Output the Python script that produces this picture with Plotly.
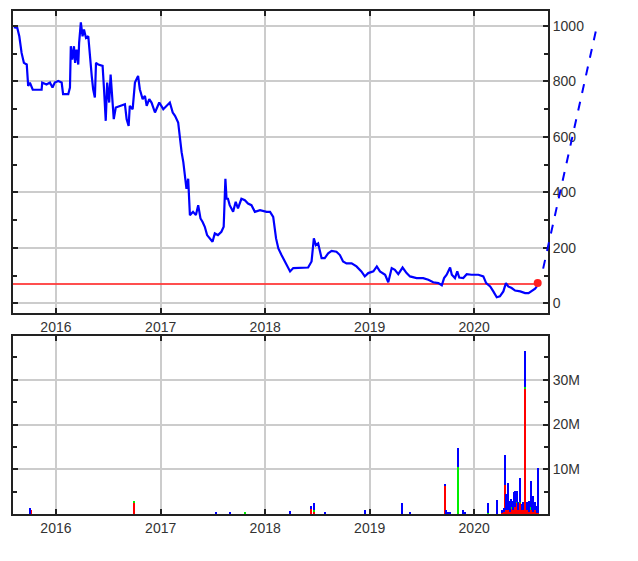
import plotly.graph_objects as go
from datetime import datetime

# ---------------- data ----------------
price_dates = [
    "2015-08-07", "2015-08-19", "2015-08-26", "2015-09-03", "2015-09-11", "2015-09-21", "2015-09-26",
    "2015-10-02", "2015-10-12", "2015-11-12", "2015-11-14", "2015-11-29", "2015-12-11", "2015-12-20",
    "2015-12-28", "2016-01-09", "2016-01-21", "2016-01-26", "2016-02-13", "2016-02-19", "2016-02-22",
    "2016-02-27", "2016-03-04", "2016-03-08", "2016-03-13", "2016-03-19", "2016-03-22", "2016-03-28",
    "2016-04-03", "2016-04-08", "2016-04-15", "2016-04-23", "2016-05-05", "2016-05-10", "2016-05-16",
    "2016-05-20", "2016-05-28", "2016-06-12", "2016-06-17", "2016-06-23", "2016-06-28", "2016-07-05",
    "2016-07-10", "2016-07-17", "2016-07-21", "2016-07-28", "2016-08-11", "2016-08-29", "2016-09-04",
    "2016-09-11", "2016-09-15", "2016-09-25", "2016-10-03", "2016-10-14", "2016-10-20", "2016-10-30",
    "2016-11-07", "2016-11-13", "2016-11-22", "2016-11-30", "2016-12-12", "2016-12-27", "2017-01-10",
    "2017-01-22", "2017-02-02", "2017-02-12", "2017-02-20", "2017-03-03", "2017-03-09", "2017-03-15",
    "2017-03-21", "2017-03-27", "2017-04-01", "2017-04-07", "2017-04-10", "2017-04-13", "2017-04-24",
    "2017-05-04", "2017-05-12", "2017-05-20", "2017-05-27", "2017-06-04", "2017-06-12", "2017-06-21",
    "2017-07-01", "2017-07-09", "2017-07-20", "2017-08-01", "2017-08-09", "2017-08-15", "2017-08-19",
    "2017-08-24", "2017-08-30", "2017-09-11", "2017-09-20", "2017-09-28", "2017-10-10", "2017-10-22",
    "2017-11-02", "2017-11-14", "2017-11-26", "2017-12-14", "2018-01-06", "2018-01-18", "2018-01-29",
    "2018-02-08", "2018-02-16", "2018-02-27", "2018-03-11", "2018-03-29", "2018-04-09", "2018-05-03",
    "2018-05-31", "2018-06-12", "2018-06-20", "2018-06-27", "2018-07-05", "2018-07-17", "2018-07-28",
    "2018-08-09", "2018-08-21", "2018-09-07", "2018-09-19", "2018-09-30", "2018-10-12", "2018-10-30",
    "2018-11-16", "2018-12-03", "2018-12-15", "2018-12-27", "2019-01-14", "2019-01-26", "2019-02-06",
    "2019-02-24", "2019-03-07", "2019-03-19", "2019-03-30", "2019-04-11", "2019-04-26", "2019-05-10",
    "2019-05-22", "2019-06-14", "2019-07-07", "2019-07-25", "2019-08-11", "2019-08-29", "2019-09-10",
    "2019-09-18", "2019-09-27", "2019-10-09", "2019-10-15", "2019-10-26", "2019-11-03", "2019-11-10",
    "2019-11-24", "2019-12-06", "2019-12-23", "2020-01-16", "2020-02-02", "2020-02-12", "2020-02-26",
    "2020-03-08", "2020-03-20", "2020-03-31", "2020-04-12", "2020-04-21", "2020-04-29", "2020-05-11",
    "2020-05-23", "2020-06-10", "2020-06-27", "2020-07-09", "2020-07-21", "2020-08-01", "2020-08-07",
]
price_values = [
    996, 993, 963, 903, 867, 861, 784,
    796, 770, 770, 796, 789, 796, 778,
    796, 802, 796, 754, 754, 778, 927,
    879, 927, 867, 915, 861, 939, 1013,
    963, 987, 957, 963, 820, 772, 742,
    867, 861, 856, 772, 658, 796, 724,
    825, 700, 664, 706, 712, 718, 664,
    640, 712, 700, 796, 820, 772, 736,
    748, 712, 736, 724, 688, 724, 700,
    712, 724, 688, 676, 652, 592, 545,
    509, 461, 413, 449, 390, 318, 330,
    318, 354, 306, 294, 276, 246, 234,
    222, 252, 246, 258, 276, 449, 377,
    377, 354, 330, 366, 342, 377, 372,
    360, 354, 330, 336, 330, 330, 312,
    234, 198, 174, 151, 115, 127, 127,
    129, 151, 234, 210, 216, 163, 163,
    180, 189, 186, 174, 151, 144, 144,
    133, 115, 97, 109, 115, 133, 115,
    103, 76, 127, 121, 105, 129, 109,
    97, 91, 91, 85, 76, 73, 65,
    91, 103, 129, 103, 91, 115, 93,
    91, 105, 103, 103, 97, 73, 61,
    43, 22, 25, 43, 73, 61, 55,
    46, 43, 37, 37, 46, 53, 61,
]

threshold_value = 70
threshold_start = "2015-08-04"
threshold_end = "2020-08-10"
marker_value = 73

# projection (dashed) line: from / to
proj_dates = ["2020-08-29", "2021-03-05"]
proj_values = [125, 1000]

vol_dates = [
    "2015-10-03", "2015-10-07", "2016-09-29", "2017-07-13", "2017-09-01", "2017-10-23", "2018-03-29",
    "2018-06-09", "2018-06-20", "2018-07-28", "2018-12-16", "2019-04-25", "2019-05-22", "2019-09-21",
    "2019-09-25", "2019-10-02", "2019-10-08", "2019-11-07", "2019-11-22", "2019-11-30", "2020-02-19",
    "2020-03-20", "2020-04-08", "2020-04-13", "2020-04-18", "2020-04-23", "2020-04-29", "2020-05-04",
    "2020-05-09", "2020-05-14", "2020-05-19", "2020-05-24", "2020-05-29", "2020-06-03", "2020-06-10",
    "2020-06-15", "2020-06-20", "2020-06-27", "2020-07-02", "2020-07-07", "2020-07-12", "2020-07-16",
    "2020-07-21", "2020-07-26", "2020-08-01", "2020-08-06", "2020-08-12",
]
vol_red = [
    0, 0.8, 2.6, 0, 0, 0, 0,
    1.2, 0.6, 0, 0, 0, 0, 6.4,
    0, 0, 0, 0, 0, 0, 0,
    0, 0.3, 0.5, 6.5, 1.0, 0.8, 0.5,
    1.2, 0.8, 2.0, 1.5, 2.5, 0.8, 2.5,
    0.8, 1.0, 28.0, 0.8, 1.2, 0.5, 1.0,
    0.8, 0.5, 0.8, 0.3, 0.3,
]
vol_green = [
    0, 0, 0.4, 0, 0, 0.5, 0,
    0, 0.4, 0, 0, 0, 0, 0,
    0, 0, 0, 10.5, 0, 0, 0.3,
    0, 0, 0, 0, 0, 0, 0,
    0.3, 0, 0, 0, 0.3, 0, 0.3,
    0, 0, 0.3, 0, 0, 0, 0.5,
    0, 0, 0, 0, 0,
]
vol_blue = [
    1.3, 0, 0, 0.5, 0.5, 0, 0.6,
    0.5, 1.4, 0.5, 0.9, 2.4, 0.5, 0.4,
    1.0, 0.5, 0.5, 4.2, 0.8, 0.5, 2.1,
    3.2, 0.5, 0.8, 6.7, 3.5, 6.1, 2.5,
    1.8, 2.2, 3.0, 3.6, 2.3, 2.0, 5.2,
    1.5, 1.8, 8.2, 2.0, 1.5, 2.5, 5.8,
    3.0, 3.5, 2.0, 1.5, 9.9,
]

x_range = ["2015-08-04", "2020-09-15"]
price_range = [-36, 1054]
vol_range = [0, 39.8e6]
year_ticks = ["2016-01-01", "2017-01-01", "2018-01-01", "2019-01-01", "2020-01-01"]
year_labels = ["2016", "2017", "2018", "2019", "2020"]
price_ticks = [0, 200, 400, 600, 800, 1000]
vol_ticks = [10e6, 20e6, 30e6]
vol_labels = ["10M", "20M", "30M"]

# ---------------- figure ----------------
TOP_DOM = [0.399, 1.0]
BOT_DOM = [0.0, 0.354]
M = 1e6

fig = go.Figure()

fig.add_trace(go.Scatter(
    x=[threshold_start, threshold_end], y=[threshold_value, threshold_value],
    mode="lines", line=dict(color="rgba(255,60,60,0.9)", width=2),
    xaxis="x", yaxis="y", showlegend=False, hoverinfo="skip"))
fig.add_trace(go.Scatter(
    x=price_dates, y=price_values, mode="lines",
    line=dict(color="#0000ff", width=2.2), xaxis="x", yaxis="y", showlegend=False))
fig.add_trace(go.Scatter(
    x=[threshold_end], y=[marker_value], mode="markers",
    marker=dict(color="#ff2020", size=8), cliponaxis=False,
    xaxis="x", yaxis="y", showlegend=False))

bar_w = 7 * 86400000
for vals, col in [(vol_red, "#ff0000"), (vol_green, "#00ee00"), (vol_blue, "#0000ff")]:
    fig.add_trace(go.Bar(
        x=vol_dates, y=[v * M for v in vals], width=bar_w,
        marker=dict(color=col, line=dict(width=0)),
        xaxis="x2", yaxis="y2", showlegend=False))

# dashed projection line drawn outside the plot area (paper coordinates)
def to_ms(s):
    return datetime.strptime(s, "%Y-%m-%d").timestamp()

x0, x1 = to_ms(x_range[0]), to_ms(x_range[1])
def xpaper(d):
    return (to_ms(d) - x0) / (x1 - x0)
def ypaper(v):
    f = (v - price_range[0]) / (price_range[1] - price_range[0])
    return TOP_DOM[0] + f * (TOP_DOM[1] - TOP_DOM[0])

fig.add_shape(type="line", xref="paper", yref="paper",
              x0=xpaper(proj_dates[0]), y0=ypaper(proj_values[0]),
              x1=xpaper(proj_dates[1]), y1=ypaper(proj_values[1]),
              line=dict(color="#0000ff", width=2, dash="dash"))

axis_common = dict(
    showline=True, linecolor="#222222", linewidth=2, mirror="ticks",
    ticks="inside", tickcolor="#222222", ticklen=5, tickwidth=1.5,
    showgrid=True, gridcolor="#cccccc", gridwidth=1.5, zeroline=False,
    tickfont=dict(family="Liberation Sans, Arial", size=14, color="#333333"),
)

fig.update_layout(
    width=630, height=553,
    margin=dict(l=5, r=90, t=1, b=47),
    paper_bgcolor="white", plot_bgcolor="white",
    barmode="stack", bargap=0,
    xaxis=dict(domain=[0, 1], range=x_range, type="date", anchor="y",
               tickvals=year_ticks, ticktext=year_labels, **axis_common),
    yaxis=dict(domain=TOP_DOM, range=price_range, side="right", anchor="x",
               tickvals=price_ticks,
               minor=dict(dtick=100, tick0=0, ticks="inside", ticklen=4, tickcolor="#222222", showgrid=False),
               **axis_common),
    xaxis2=dict(domain=[0, 1], range=x_range, type="date", anchor="y2",
                tickvals=year_ticks, ticktext=year_labels, **axis_common),
    yaxis2=dict(domain=BOT_DOM, range=vol_range, side="right", anchor="x2",
                tickvals=vol_ticks, ticktext=vol_labels,
                minor=dict(dtick=5e6, tick0=0, ticks="inside", ticklen=4, tickcolor="#222222", showgrid=False),
                **axis_common),
)

fig.write_html("out.html")
